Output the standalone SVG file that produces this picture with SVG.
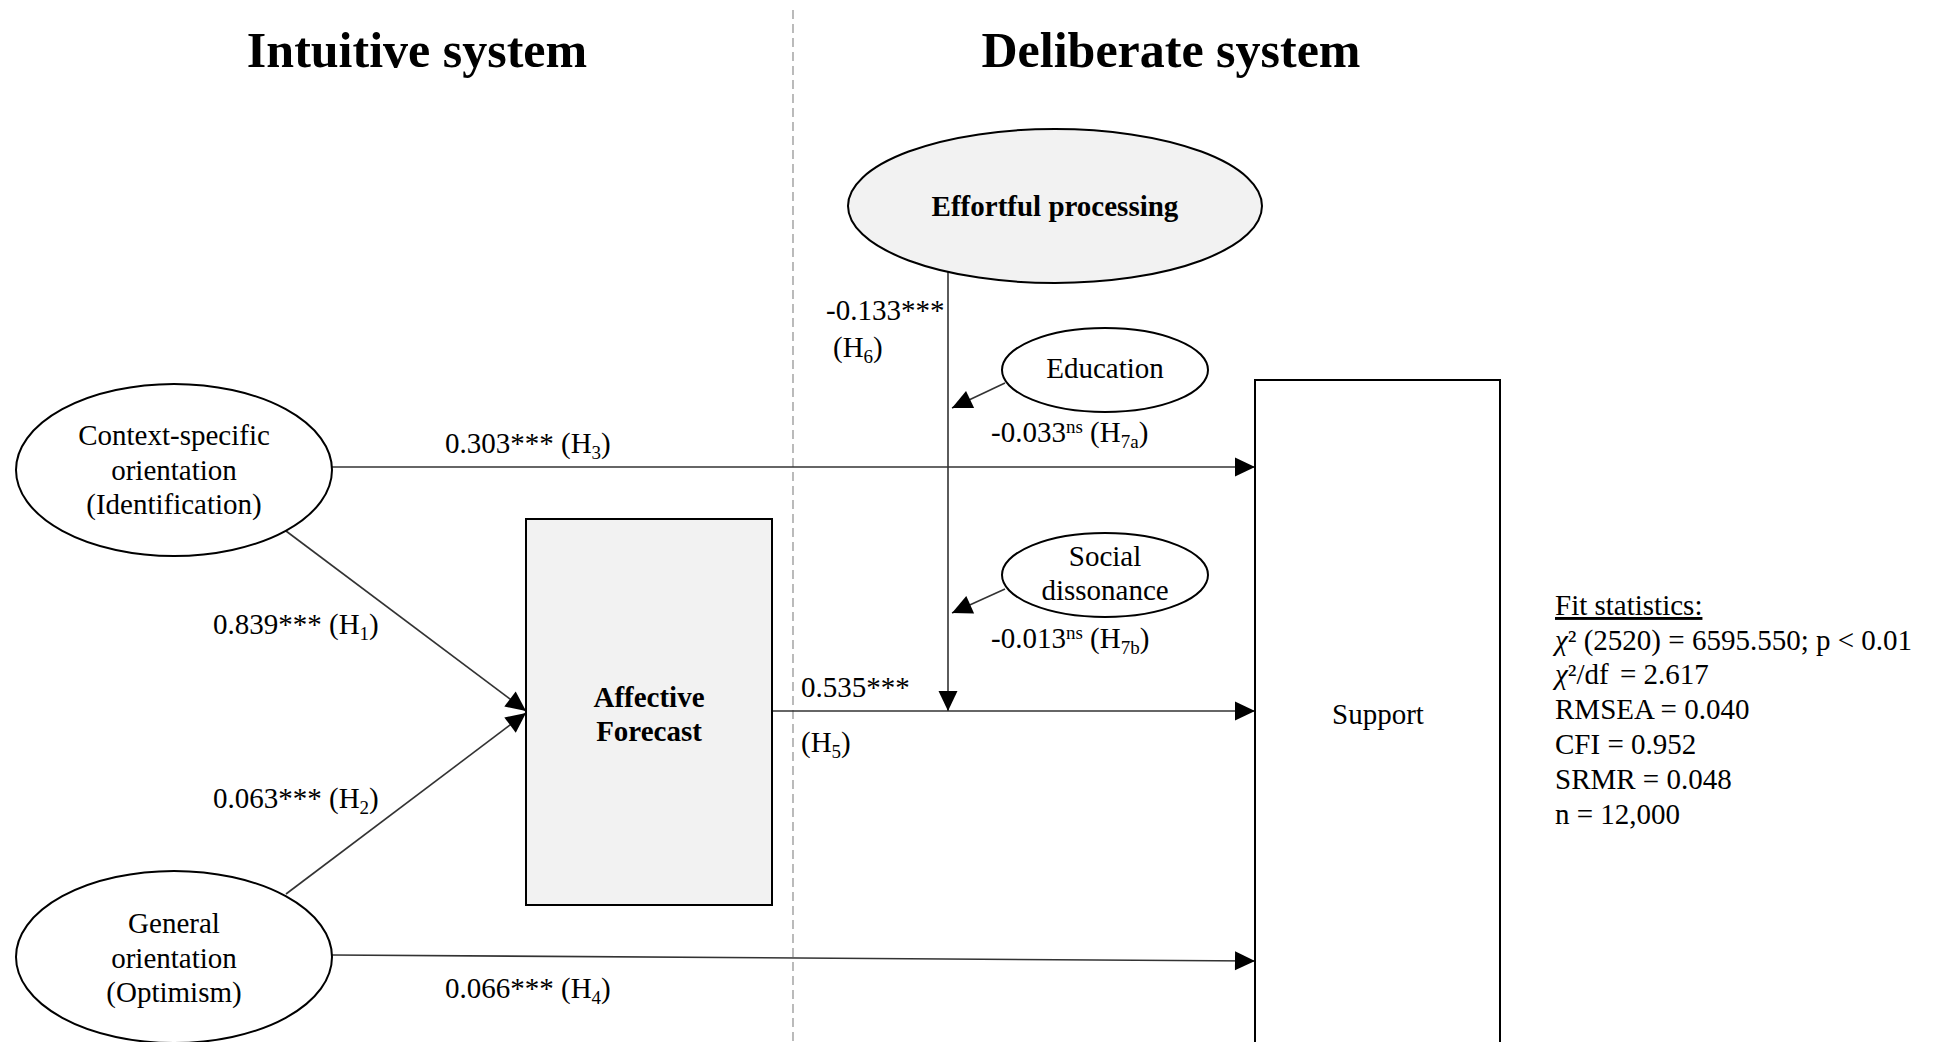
<svg xmlns="http://www.w3.org/2000/svg" width="1933" height="1042" viewBox="0 0 1933 1042">
<style>
text{font-family:"Liberation Serif","Times New Roman",serif;font-size:29px;fill:#000}
.title{font-size:50px;font-weight:bold}
.b{font-weight:bold}
.node{stroke:#000;stroke-width:2;fill:#fff}
.grey{fill:#f2f2f2}
.con{stroke:#333;stroke-width:1.6;fill:none}
.sub{font-size:19px}
</style>
<defs>
<marker id="ah" markerUnits="userSpaceOnUse" markerWidth="22" markerHeight="22" viewBox="0 0 22 22" refX="21" refY="11" orient="auto">
<path d="M1,1.5 L21,11 L1,20.5 Z" fill="#000"/>
</marker>
</defs>
<rect width="1933" height="1042" fill="#fff"/>
<line x1="793" y1="10" x2="793" y2="1042" stroke="#aaa" stroke-width="1.6" stroke-dasharray="9,5"/>
<text class="title" x="417" y="67" text-anchor="middle">Intuitive system</text>
<text class="title" x="1171" y="67" text-anchor="middle">Deliberate system</text>

<g id="connectors">
<line class="con" x1="332" y1="467" x2="1255" y2="467" marker-end="url(#ah)"/>
<line class="con" x1="286" y1="531" x2="526" y2="711" marker-end="url(#ah)"/>
<line class="con" x1="286" y1="894" x2="526" y2="713" marker-end="url(#ah)"/>
<line class="con" x1="772" y1="711" x2="1255" y2="711" marker-end="url(#ah)"/>
<line class="con" x1="332" y1="955" x2="1255" y2="961" marker-end="url(#ah)"/>
<line class="con" x1="948" y1="272" x2="948" y2="711" marker-end="url(#ah)"/>
<line class="con" x1="1005" y1="383" x2="952" y2="408" marker-end="url(#ah)"/>
<line class="con" x1="1005" y1="589" x2="952" y2="613" marker-end="url(#ah)"/>
</g>

<g id="labels">
<text x="445" y="453">0.303*** (H<tspan class="sub" dy="6">3</tspan><tspan dy="-6">)</tspan></text>
<text x="213" y="634">0.839*** (H<tspan class="sub" dy="6">1</tspan><tspan dy="-6">)</tspan></text>
<text x="213" y="808">0.063*** (H<tspan class="sub" dy="6">2</tspan><tspan dy="-6">)</tspan></text>
<text x="445" y="998">0.066*** (H<tspan class="sub" dy="6">4</tspan><tspan dy="-6">)</tspan></text>
<text x="801" y="697">0.535***</text>
<text x="801" y="752">(H<tspan class="sub" dy="6">5</tspan><tspan dy="-6">)</tspan></text>
<text x="826" y="320">-0.133***</text>
<text x="833" y="357">(H<tspan class="sub" dy="6">6</tspan><tspan dy="-6">)</tspan></text>
<text x="991" y="442">-0.033<tspan class="sub" dy="-9">ns</tspan><tspan dy="9"> (H</tspan><tspan class="sub" dy="6">7a</tspan><tspan dy="-6">)</tspan></text>
<text x="991" y="648">-0.013<tspan class="sub" dy="-9">ns</tspan><tspan dy="9"> (H</tspan><tspan class="sub" dy="6">7b</tspan><tspan dy="-6">)</tspan></text>
</g>

<g id="effortful">
<ellipse class="node grey" cx="1055" cy="206" rx="207" ry="77"/>
<text class="b" x="1055" y="216" text-anchor="middle">Effortful processing</text>
</g>
<g id="context">
<ellipse class="node" cx="174" cy="470" rx="158" ry="86"/>
<text x="174" y="445" text-anchor="middle">Context-specific</text>
<text x="174" y="480" text-anchor="middle">orientation</text>
<text x="174" y="514" text-anchor="middle">(Identification)</text>
</g>
<g id="general">
<ellipse class="node" cx="174" cy="957" rx="158" ry="86"/>
<text x="174" y="933" text-anchor="middle">General</text>
<text x="174" y="968" text-anchor="middle">orientation</text>
<text x="174" y="1002" text-anchor="middle">(Optimism)</text>
</g>
<g id="affective">
<rect class="node grey" x="526" y="519" width="246" height="386" stroke-width="1.6"/>
<text class="b" x="649" y="707" text-anchor="middle">Affective</text>
<text class="b" x="649" y="741" text-anchor="middle">Forecast</text>
</g>
<g id="support">
<rect class="node" x="1255" y="380" width="245" height="700" stroke-width="1.6"/>
<text x="1378" y="724" text-anchor="middle">Support</text>
</g>
<g id="education">
<ellipse class="node" cx="1105" cy="370" rx="103" ry="42"/>
<text x="1105" y="378" text-anchor="middle">Education</text>
</g>
<g id="social">
<ellipse class="node" cx="1105" cy="575" rx="103" ry="42"/>
<text x="1105" y="566" text-anchor="middle">Social</text>
<text x="1105" y="600" text-anchor="middle">dissonance</text>
</g>

<g id="fit">
<text x="1555" y="615" text-decoration="underline">Fit statistics:</text>
<text x="1555" y="650"><tspan font-style="italic">χ</tspan>² (2520) = 6595.550; p &lt; 0.01</text>
<text x="1555" y="684"><tspan font-style="italic">χ</tspan>²/df <tspan dx="4">= 2.617</tspan></text>
<text x="1555" y="719">RMSEA = 0.040</text>
<text x="1555" y="754">CFI = 0.952</text>
<text x="1555" y="789">SRMR = 0.048</text>
<text x="1555" y="824">n = 12,000</text>
</g>
</svg>
